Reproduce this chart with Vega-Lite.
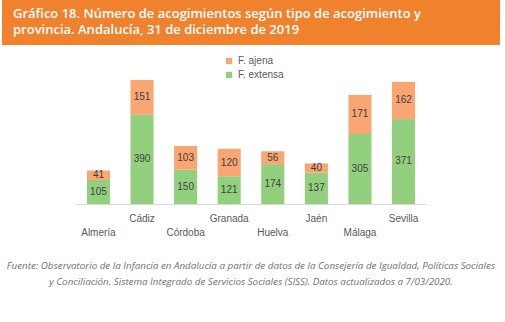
{
  "$schema": "https://vega.github.io/schema/vega-lite/v6.json",
  "padding": {"left": 2, "top": 0, "right": 5, "bottom": 0},
  "background": "white",
  "spacing": 10,
  "center": true,
  "bounds": "flush",
  "vconcat": [
    {
      "width": 498,
      "height": 45,
      "view": {"fill": "#F0822E", "stroke": null},
      "data": {"values": [{"titulo": "Gráfico 18. Número de acogimientos según tipo de acogimiento y\nprovincia. Andalucía, 31 de diciembre de 2019"}]},
      "mark": {"type": "text", "align": "left", "baseline": "middle", "lineBreak": "\n", "lineHeight": 16, "font": "Open Sans", "fontSize": 13, "fontWeight": 600, "color": "white"},
      "encoding": {
        "text": {"field": "titulo"},
        "x": {"value": 11},
        "y": {"value": 14}
      }
    },
    {
      "width": 350,
      "height": 149,
      "view": {"stroke": null},
      "title": {
        "text": ["Fuente: Observatorio de la Infancia en Andalucía a partir de datos de la Consejería de Igualdad, Políticas Sociales", "y Conciliación. Sistema Integrado de Servicios Sociales (SISS). Datos actualizados a 7/03/2020."],
        "orient": "bottom",
        "anchor": "middle",
        "frame": "group",
        "font": "Open Sans",
        "fontStyle": "italic",
        "fontWeight": "normal",
        "fontSize": 9.8,
        "color": "#707070",
        "lineHeight": 16,
        "offset": 24
      },
      "data": {"values": [
        {"provincia": "Almería", "tipo": "F. extensa", "valor": 105},
        {"provincia": "Almería", "tipo": "F. ajena", "valor": 41},
        {"provincia": "Cádiz", "tipo": "F. extensa", "valor": 390},
        {"provincia": "Cádiz", "tipo": "F. ajena", "valor": 151},
        {"provincia": "Córdoba", "tipo": "F. extensa", "valor": 150},
        {"provincia": "Córdoba", "tipo": "F. ajena", "valor": 103},
        {"provincia": "Granada", "tipo": "F. extensa", "valor": 121},
        {"provincia": "Granada", "tipo": "F. ajena", "valor": 120},
        {"provincia": "Huelva", "tipo": "F. extensa", "valor": 174},
        {"provincia": "Huelva", "tipo": "F. ajena", "valor": 56},
        {"provincia": "Jaén", "tipo": "F. extensa", "valor": 137},
        {"provincia": "Jaén", "tipo": "F. ajena", "valor": 40},
        {"provincia": "Málaga", "tipo": "F. extensa", "valor": 305},
        {"provincia": "Málaga", "tipo": "F. ajena", "valor": 171},
        {"provincia": "Sevilla", "tipo": "F. extensa", "valor": 371},
        {"provincia": "Sevilla", "tipo": "F. ajena", "valor": 162}
      ]},
      "transform": [
        {"stack": "valor", "groupby": ["provincia"], "sort": [{"field": "tipo", "order": "descending"}], "as": ["v0", "v1"]},
        {"calculate": "(datum.v0 + datum.v1) / 2", "as": "vmid"}
      ],
      "encoding": {
        "x": {
          "field": "provincia",
          "type": "nominal",
          "sort": null,
          "title": null,
          "scale": {"paddingInner": 0.47, "paddingOuter": 0.25},
          "axis": {
            "domainColor": "#d9d9d9",
            "ticks": false,
            "labelAngle": 0,
            "labelOverlap": false,
            "labelPadding": 9,
            "labelFont": "Liberation Sans",
            "labelFontSize": 10,
            "labelColor": "#595959",
            "labelLineHeight": 14,
            "labelExpr": "indexof(['Almería','Córdoba','Huelva','Málaga'], datum.label) >= 0 ? ['', datum.label] : datum.label"
          }
        }
      },
      "layer": [
        {
          "mark": {"type": "bar"},
          "encoding": {
            "y": {"field": "v0", "type": "quantitative", "scale": {"domain": [0, 640]}, "axis": null},
            "y2": {"field": "v1"},
            "color": {
              "field": "tipo",
              "type": "nominal",
              "scale": {"domain": ["F. ajena", "F. extensa"], "range": ["#F9A673", "#93D07E"]},
              "legend": {
                "title": null,
                "orient": "none",
                "legendX": 222,
                "legendY": 56,
                "symbolType": "square",
                "symbolSize": 40,
                "symbolStrokeWidth": 0,
                "labelFont": "Liberation Sans",
                "labelFontSize": 10,
                "labelColor": "#595959",
                "rowPadding": 4,
                "labelOffset": 4
              }
            }
          }
        },
        {
          "mark": {"type": "text", "baseline": "middle", "font": "Liberation Sans", "fontSize": 10, "color": "#404040"},
          "encoding": {
            "y": {"field": "vmid", "type": "quantitative"},
            "text": {"field": "valor", "type": "quantitative"}
          }
        }
      ]
    }
  ]
}
